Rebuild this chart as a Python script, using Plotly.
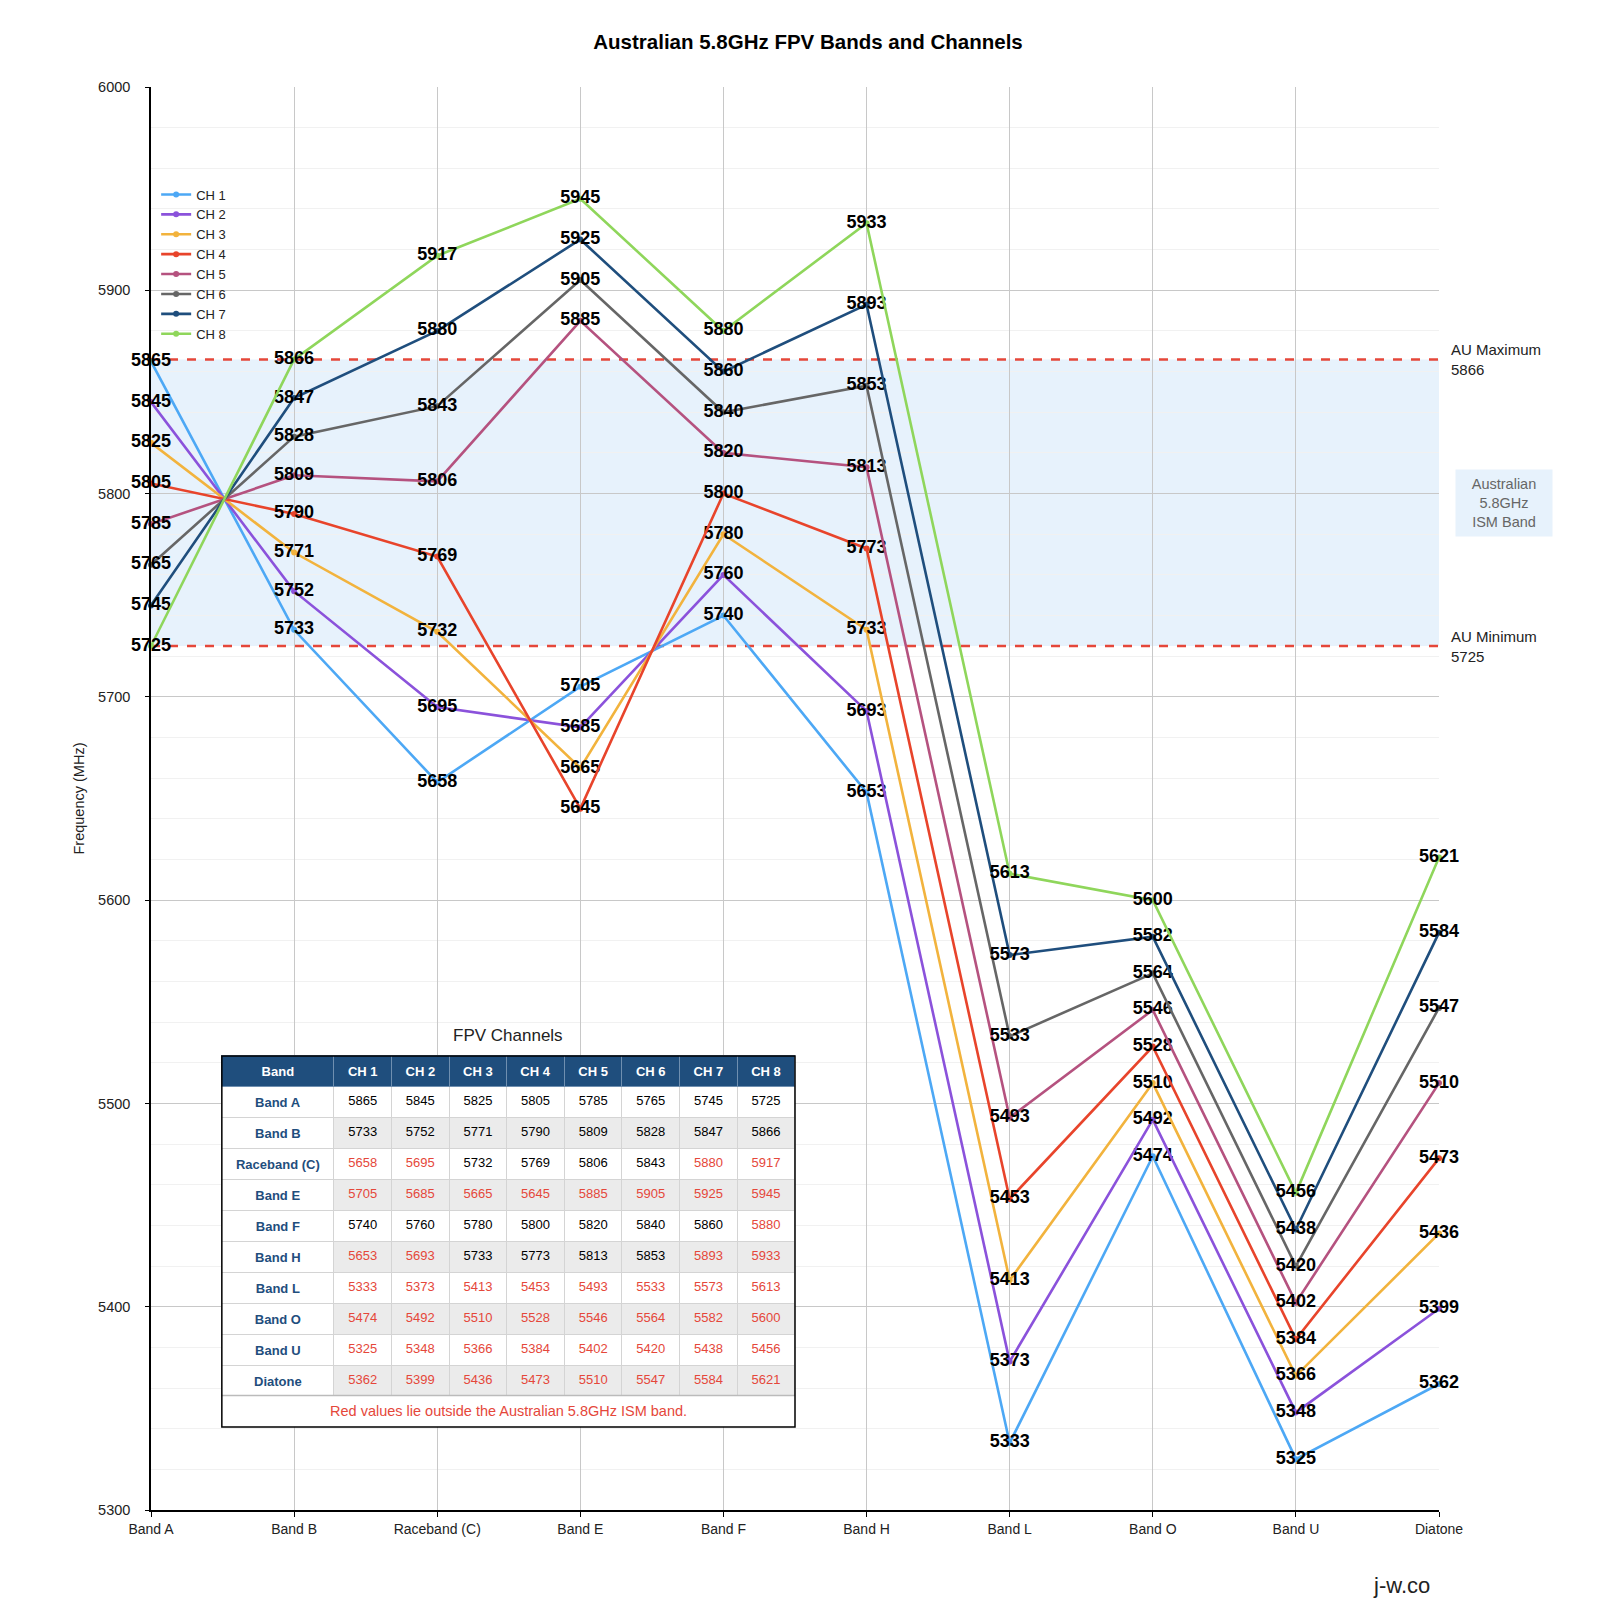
import plotly.graph_objects as go

# bands along the x axis, values per channel (MHz)
bands = ["Band A", "Band B", "Raceband (C)", "Band E", "Band F",
         "Band H", "Band L", "Band O", "Band U", "Diatone"]
channels = ["CH 1", "CH 2", "CH 3", "CH 4", "CH 5", "CH 6", "CH 7", "CH 8"]

ch1 = [5865, 5733, 5658, 5705, 5740, 5653, 5333, 5474, 5325, 5362]
ch2 = [5845, 5752, 5695, 5685, 5760, 5693, 5373, 5492, 5348, 5399]
ch3 = [5825, 5771, 5732, 5665, 5780, 5733, 5413, 5510, 5366, 5436]
ch4 = [5805, 5790, 5769, 5645, 5800, 5773, 5453, 5528, 5384, 5473]
ch5 = [5785, 5809, 5806, 5885, 5820, 5813, 5493, 5546, 5402, 5510]
ch6 = [5765, 5828, 5843, 5905, 5840, 5853, 5533, 5564, 5420, 5547]
ch7 = [5745, 5847, 5880, 5925, 5860, 5893, 5573, 5582, 5438, 5584]
ch8 = [5725, 5866, 5917, 5945, 5880, 5933, 5613, 5600, 5456, 5621]

au_min = 5725
au_max = 5866

colors = ["#4DA8F5", "#8B52DB", "#F2B33D", "#E8442B",
          "#B5527F", "#666666", "#1F4E7D", "#8FD65B"]

FONT = "Arial, Liberation Sans, Helvetica, sans-serif"
RED = "#E5473A"
NAVY = "#1F4E7D"

series = [ch1, ch2, ch3, ch4, ch5, ch6, ch7, ch8]

fig = go.Figure()

for name, vals, col in zip(channels, series, colors):
    fig.add_trace(go.Scatter(
        x=bands, y=vals, name=name, mode="lines+markers+text",
        line=dict(color=col, width=2.6),
        marker=dict(color=col, size=6),
        text=[str(v) for v in vals], textposition="middle center",
        textfont=dict(family=FONT, size=18, color="black", weight="bold"),
        cliponaxis=False,
    ))

# table of channels
def cell_colour(v):
    return "black" if au_min <= v <= au_max else RED

rows = len(bands)
stripe = ["white" if i % 2 == 0 else "#EBEBEB" for i in range(rows)]
cell_values = [["<b>%s</b>" % b for b in bands]] + [[str(v) for v in s] for s in series]
font_colours = [[NAVY] * rows] + [[cell_colour(v) for v in s] for s in series]
fills = [["white"] * rows] + [stripe for _ in series]

tbl_x = [0.055, 0.5]
tbl_top = 0.3191
rows_bottom = 0.0805
foot_bottom = 0.0583

fig.add_trace(go.Table(
    domain=dict(x=tbl_x, y=[0.07, tbl_top]),
    columnwidth=[112] + [57.6] * 8,
    header=dict(values=["<b>Band</b>"] + ["<b>%s</b>" % c for c in channels],
                fill_color=NAVY, align="center", height=28,
                line=dict(color="#6F8FB0", width=1),
                font=dict(family=FONT, size=13, color="white")),
    cells=dict(values=cell_values, fill_color=fills, align="center", height=28,
               line=dict(color="#D4D4D4", width=1),
               font=dict(family=FONT, size=13, color=font_colours)),
))

shapes = [
    dict(type="rect", xref="paper", yref="y", x0=0, x1=1, y0=au_min, y1=au_max,
         fillcolor="#E7F2FC", line=dict(width=0), layer="below"),
    dict(type="line", xref="paper", yref="y", x0=0, x1=1, y0=au_max, y1=au_max,
         line=dict(color=RED, width=2.5, dash="dash"), layer="below"),
    dict(type="line", xref="paper", yref="y", x0=0, x1=1, y0=au_min, y1=au_min,
         line=dict(color=RED, width=2.5, dash="dash"), layer="below"),
    dict(type="rect", xref="paper", yref="paper", x0=tbl_x[0], x1=tbl_x[1],
         y0=foot_bottom, y1=rows_bottom,
         fillcolor="white", line=dict(width=0), layer="above"),
    dict(type="line", xref="paper", yref="paper", x0=tbl_x[0], x1=tbl_x[1],
         y0=rows_bottom, y1=rows_bottom, line=dict(color="#BBBBBB", width=1.5),
         layer="above"),
    dict(type="rect", xref="paper", yref="paper", x0=tbl_x[0], x1=tbl_x[1],
         y0=foot_bottom, y1=tbl_top,
         fillcolor="rgba(0,0,0,0)", line=dict(color="black", width=1.5), layer="above"),
]

annotations = [
    dict(text="AU Maximum<br>5866", xref="paper", yref="y", x=1.008, y=au_max,
         xanchor="left", yanchor="middle", align="left", showarrow=False,
         font=dict(family=FONT, size=15, color="#222")),
    dict(text="AU Minimum<br>5725", xref="paper", yref="y", x=1.008, y=au_min,
         xanchor="left", yanchor="middle", align="left", showarrow=False,
         font=dict(family=FONT, size=15, color="#222")),
    dict(text="Australian<br>5.8GHz<br>ISM Band", xref="paper", yref="y", x=1.0505,
         y=(au_min + au_max) / 2, xanchor="center", yanchor="middle", showarrow=False,
         bgcolor="#E7F2FC", borderpad=6, width=84,
         font=dict(family=FONT, size=14.5, color="#666")),
    dict(text="FPV Channels", xref="paper", yref="paper", x=0.277, y=0.3332,
         xanchor="center", yanchor="middle", showarrow=False,
         font=dict(family=FONT, size=17, color="#222")),
    dict(text="Red values lie outside the Australian 5.8GHz ISM band.", xref="paper",
         yref="paper", x=0.2775, y=(foot_bottom + rows_bottom) / 2, xanchor="center",
         yanchor="middle", showarrow=False, font=dict(family=FONT, size=14.5, color=RED)),
    dict(text="j-w.co", xref="paper", yref="paper", x=0.971, y=-0.053,
         xanchor="center", yanchor="middle", showarrow=False,
         font=dict(family=FONT, size=22, color="#222")),
]

fig.update_layout(
    width=1600, height=1600,
    margin=dict(l=143, r=169, t=79, b=98),
    paper_bgcolor="white", plot_bgcolor="white",
    font=dict(family=FONT, color="#222"),
    title=dict(text="<b>Australian 5.8GHz FPV Bands and Channels</b>", x=0.5, y=0.979,
               xanchor="center", yanchor="middle", font=dict(size=20.5, color="black")),
    showlegend=True,
    legend=dict(x=0.004, y=0.935, xanchor="left", yanchor="top", bgcolor="rgba(0,0,0,0)",
                font=dict(size=13, color="#222"), tracegroupgap=0, itemwidth=30),
    shapes=shapes, annotations=annotations,
)

fig.update_xaxes(
    type="category", categoryorder="array", categoryarray=bands, range=[0, 9],
    showline=True, linecolor="black", linewidth=1.5, showgrid=True,
    gridcolor="#C8C8C8", gridwidth=1, ticks="outside", ticklen=5, tickcolor="black",
    tickfont=dict(size=14, color="#222"), zeroline=False,
)
fig.update_yaxes(
    range=[5300, 6000], dtick=100, showline=True, linecolor="black", linewidth=1.5,
    showgrid=True, gridcolor="#C8C8C8", gridwidth=1, ticks="outside", ticklen=4,
    tickcolor="black", tickfont=dict(size=14.5, color="#222"), ticklabelstandoff=12,
    minor=dict(dtick=20, showgrid=True, gridcolor="#F1F1F1", gridwidth=1),
    title=dict(text="Frequency (MHz)", font=dict(size=14.5, color="#222"), standoff=10),
    zeroline=False,
)

fig.write_html("out.html")
